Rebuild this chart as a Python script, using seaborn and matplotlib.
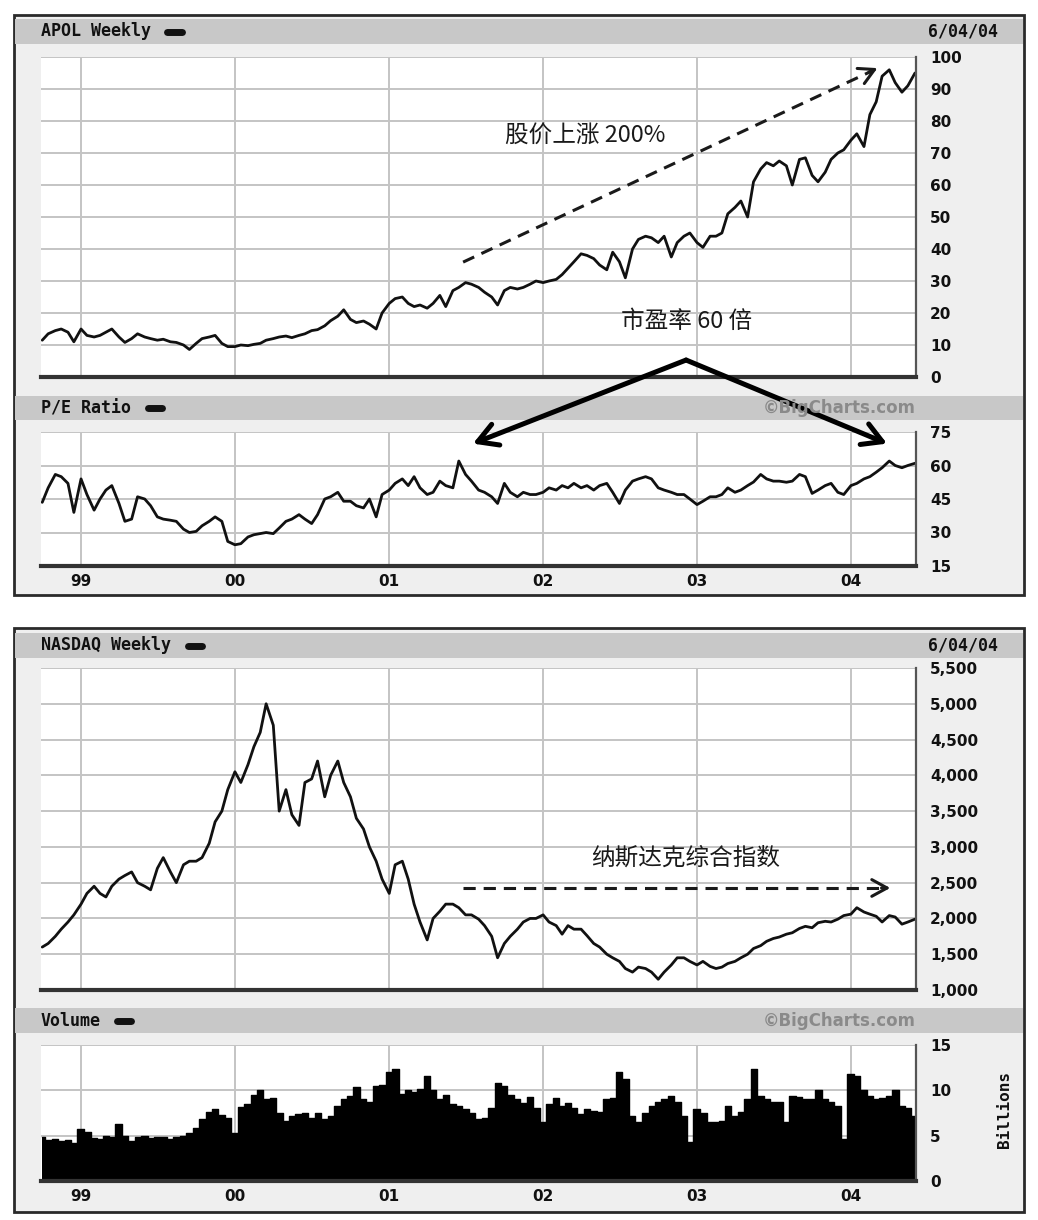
import numpy as np
import pandas as pd
import matplotlib
matplotlib.use("Agg")
import matplotlib.pyplot as plt
import matplotlib.dates as mdates
from matplotlib.patches import Rectangle
from matplotlib.lines import Line2D
import seaborn as sns

# ---------------- data (semi-monthly readings, Oct 1998 - Jun 2004) ----------------
dates = pd.date_range("1998-10-01", "2004-06-01", freq="SMS")

apol_price = [
    11.5, 13.5, 14.5, 15, 14, 11,
    15, 13, 12.5, 13, 14, 15, 12.5, 10.8, 12, 13.5, 12.5, 12, 11.5, 11.8, 11, 10.8, 10, 8.6, 10.5, 12, 12.5, 13, 10.5, 9.5,
    9.5, 10, 9.8, 10.2, 10.5, 11.5, 12, 12.5, 12.8, 12.3, 13, 13.5, 14.5, 14.8, 16, 17.6, 19, 21, 18, 17, 17.5, 16.5, 15, 20,
    23, 24.5, 25, 23, 22, 22.5, 21.5, 23, 25.5, 22, 27, 28, 29.5, 29, 28, 26.5, 25, 22.5, 27, 28, 27.5, 28, 29, 30,
    29.5, 30, 30.5, 32, 34, 36, 38.5, 38, 37, 35, 33.5, 39, 36, 31, 40, 43, 44, 43.5, 42, 44, 37.5, 42, 44, 45,
    42, 40.5, 44, 44, 45, 51, 53, 55, 50, 61, 65, 67, 66, 67.5, 66, 60, 68, 68.5, 63, 61, 64, 68, 70, 71,
    74, 76, 72, 82, 86, 94, 96, 92, 89, 91, 95,
]

apol_pe = [
    43.5, 50, 56, 55, 52, 39,
    54, 47, 40, 45, 49, 51, 43, 35, 36, 46, 45, 42, 37, 36, 35.5, 35, 31.5, 30, 30.5, 33, 35, 37, 35, 26,
    24.5, 25, 28, 29, 29.5, 30, 29.5, 32, 35, 36, 38, 36, 34, 38, 45, 46, 48, 44, 44, 42, 41, 45, 37, 47,
    49, 52, 54, 51, 55, 50, 47, 48, 53, 51, 50, 62, 56, 53, 49, 48, 46, 43, 52, 48, 46, 48, 47, 47,
    48, 50, 49, 51, 50, 52, 50, 51, 49, 51, 52, 48, 43, 49, 53, 54, 55, 54, 50, 49, 48, 47, 47, 45,
    42.5, 44, 46, 46, 47, 50, 48, 49, 51, 52.6, 56, 54, 53, 53, 52.5, 53, 56, 55, 47.5, 49, 51, 52, 48, 47,
    51, 52, 54, 55, 57, 59, 62, 60, 59, 60, 61,
]

nasdaq = [
    1600, 1650, 1750, 1850, 1950, 2050,
    2200, 2350, 2450, 2350, 2300, 2450, 2550, 2600, 2650, 2500, 2450, 2400, 2700, 2850, 2650, 2500, 2750, 2800, 2800, 2850, 3050, 3350, 3500, 3800,
    4050, 3900, 4150, 4400, 4600, 5000, 4700, 3500, 3800, 3450, 3300, 3900, 3950, 4200, 3700, 4000, 4200, 3900, 3700, 3400, 3250, 3000, 2800, 2550,
    2350, 2750, 2800, 2550, 2200, 1950, 1700, 2000, 2100, 2200, 2200, 2150, 2050, 2050, 1990, 1900, 1750, 1450, 1650, 1750, 1850, 1950, 2000, 2000,
    2050, 1950, 1900, 1780, 1900, 1850, 1850, 1760, 1650, 1600, 1500, 1450, 1400, 1300, 1250, 1320, 1300, 1250, 1150, 1250, 1350, 1450, 1450, 1400,
    1350, 1400, 1330, 1300, 1320, 1370, 1400, 1450, 1500, 1580, 1620, 1680, 1720, 1740, 1780, 1800, 1860, 1890, 1870, 1940, 1960, 1950, 1990, 2040,
    2060, 2150, 2090, 2060, 2030, 1950, 2040, 2020, 1920, 1950, 1990,
]

volume_bn = [
    4.8, 4.5, 4.6, 4.4, 4.5, 4.2,
    5.7, 5.4, 4.7, 4.6, 5.0, 4.8, 6.3, 5.0, 4.4, 4.8, 5.0, 4.7, 4.8, 4.9, 4.6, 4.8, 5.0, 5.3, 5.8, 6.8, 7.6, 7.9, 7.3, 7.0,
    5.3, 8.2, 8.5, 9.5, 10.0, 9.0, 9.2, 7.5, 6.6, 7.2, 7.4, 7.5, 7.0, 7.5, 6.8, 7.2, 8.3, 9.0, 9.4, 10.4, 9.0, 8.7, 10.5, 10.6,
    12.0, 12.3, 9.6, 10.0, 9.8, 10.1, 11.6, 10.0, 9.0, 9.5, 8.5, 8.3, 7.9, 7.5, 6.8, 7.0, 8.0, 10.8, 10.5, 9.5, 9.0, 8.6, 9.3, 8.0,
    6.5, 8.5, 9.2, 8.3, 8.6, 8.0, 7.4, 7.9, 7.7, 7.6, 9.0, 9.2, 12.0, 11.3, 7.2, 6.5, 7.5, 8.3, 8.7, 9.0, 9.4, 8.7, 7.2, 4.3,
    7.9, 7.5, 6.5, 6.5, 6.6, 8.3, 7.2, 7.6, 9.0, 12.4, 9.4, 9.0, 8.7, 8.7, 6.5, 9.4, 9.3, 9.0, 9.0, 10.0, 9.0, 8.7, 8.3, 4.6,
    11.8, 11.6, 10.0, 9.4, 9.0, 9.2, 9.4, 10.0, 8.3, 8.0, 7.2,
]

year_ticks = ["1999-01-01", "2000-01-01", "2001-01-01", "2002-01-01", "2003-01-01", "2004-01-01"]
year_labels = ["99", "00", "01", "02", "03", "04"]
price_ticks = [0, 10, 20, 30, 40, 50, 60, 70, 80, 90, 100]
pe_ticks = [15, 30, 45, 60, 75]
nasdaq_ticks = [1000, 1500, 2000, 2500, 3000, 3500, 4000, 4500, 5000, 5500]
nasdaq_labels = ["1,000", "1,500", "2,000", "2,500", "3,000", "3,500", "4,000", "4,500", "5,000", "5,500"]
volume_ticks = [0, 5, 10, 15]

df = pd.DataFrame({"date": dates, "price": apol_price, "pe": apol_pe,
                   "nasdaq": nasdaq, "volume": volume_bn})

# ---------------- style ----------------
sns.set_theme(style="white")
plt.rcParams["font.family"] = ["DejaVu Sans", "Noto Sans CJK SC"]

W, H = 1038, 1220
fig = plt.figure(figsize=(W / 100, H / 100), dpi=100)
fig.patch.set_facecolor("white")


def fx(px):
    return px / W


def fy(py):
    return 1 - py / H


def yr(t):
    return pd.Timestamp("1999-01-01") + pd.Timedelta(days=(t - 1999) * 365.25)


def box(x0, y0, x1, y1, face, edge=None, lw=0, z=-10):
    r = Rectangle((fx(x0), fy(y1)), fx(x1) - fx(x0), fy(y0) - fy(y1),
                  transform=fig.transFigure, facecolor=face,
                  edgecolor=edge if edge else face, linewidth=lw, zorder=z)
    fig.add_artist(r)


# panel frames
box(14, 15, 1024, 595, "#efefef", "#2a2a2a", 2.0, -10)
box(14, 628, 1024, 1212, "#efefef", "#2a2a2a", 2.0, -10)
for (a, b) in [(19, 44), (396, 420), (633, 658), (1008, 1033)]:
    box(15, a, 1023, b, "#c8c8c8", z=-5)

mono = "DejaVu Sans Mono"


def header_text(px, py, s, ha="left", **kw):
    fig.text(fx(px), fy(py), s, ha=ha, va="center", family=mono,
             fontsize=12, color="#111111", fontweight="bold", **kw)


def dash(x0, x1, py):
    fig.add_artist(Line2D([fx(x0), fx(x1)], [fy(py), fy(py)], transform=fig.transFigure,
                          color="#111111", lw=5, solid_capstyle="round", zorder=5))


header_text(41, 31.5, "APOL Weekly")
dash(167, 182, 31.5)
header_text(928, 31.5, "6/04/04")
header_text(41, 408, "P/E Ratio")
dash(148, 162, 408)
fig.text(fx(916), fy(408), "©BigCharts.com", ha="right", va="center",
         fontsize=12, fontweight="bold", color="#8a8a8a")
header_text(41, 645.5, "NASDAQ Weekly")
dash(188, 202, 645.5)
header_text(928, 645.5, "6/04/04")
header_text(41, 1021, "Volume")
dash(117, 131, 1021)
fig.text(fx(916), fy(1021), "©BigCharts.com", ha="right", va="center",
         fontsize=12, fontweight="bold", color="#8a8a8a")
fig.text(fx(1005), fy(1110), "Billions", ha="center", va="center", rotation=90,
         family=mono, fontsize=11.5, fontweight="bold", color="#111111")

# axes
def make_ax(py0, py1):
    return fig.add_axes([fx(41), fy(py1), fx(916) - fx(41), fy(py0) - fy(py1)])


ax_p = make_ax(57, 377)
ax_pe = make_ax(432, 566)
ax_n = make_ax(668, 990)
ax_v = make_ax(1045, 1181)

xmin, xmax = yr(1998.74), yr(2004.422)
tick_dates = [pd.Timestamp(d) for d in year_ticks]

# series
sns.lineplot(data=df, x="date", y="price", ax=ax_p, color="#111111", lw=2.0, legend=False)
sns.lineplot(data=df, x="date", y="pe", ax=ax_pe, color="#111111", lw=2.0, legend=False)
sns.lineplot(data=df, x="date", y="nasdaq", ax=ax_n, color="#111111", lw=2.0, legend=False)
sns.lineplot(data=df, x="date", y="volume", ax=ax_v, color="#000000", lw=1.0,
             drawstyle="steps-mid", legend=False)
ax_v.fill_between(df["date"], df["volume"], 0, step="mid", color="#000000", lw=0)

for ax, ticks, lim in [(ax_p, price_ticks, (0, 100)), (ax_pe, pe_ticks, (15, 75)),
                       (ax_n, nasdaq_ticks, (1000, 5500)), (ax_v, volume_ticks, (0, 15))]:
    ax.set_facecolor("white")
    ax.set_xlim(xmin, xmax)
    ax.set_ylim(*lim)
    ax.set_yticks(ticks)
    ax.set_xticks(tick_dates)
    ax.yaxis.tick_right()
    ax.tick_params(axis="both", length=0, labelsize=11, colors="#111111")
    ax.tick_params(axis="y", pad=10)
    ax.tick_params(axis="x", pad=6)
    ax.grid(True, color="#c4c4c4", lw=1.4)
    ax.set_axisbelow(True)
    for s in ["top", "left"]:
        ax.spines[s].set_visible(False)
    ax.spines["right"].set_color("#555555")
    ax.spines["right"].set_linewidth(1.6)
    ax.spines["bottom"].set_color("#333333")
    ax.spines["bottom"].set_linewidth(3)
    ax.set_xlabel("")
    ax.set_ylabel("")

ax_n.set_yticklabels(nasdaq_labels)
for ax in (ax_p, ax_n):
    ax.set_xticklabels([])
for ax in (ax_pe, ax_v):
    ax.set_xticklabels(year_labels, fontweight="bold")
for ax in (ax_p, ax_pe, ax_n, ax_v):
    for lab in ax.get_yticklabels():
        lab.set_fontweight("bold")

# ---------------- annotations ----------------
cjk = ["Noto Sans CJK SC", "DejaVu Sans"]
ink = "#1a1a1a"

# rising dashed arrow on price panel
ax_p.plot([yr(2001.481), yr(2004.13)], [35.9, 95.5], ls=(0, (4, 2.6)), color=ink, lw=2.2)
ax_p.annotate("", xy=(yr(2004.188), 96.9), xytext=(yr(2004.10), 94.9),
              arrowprops=dict(arrowstyle="->,head_length=0.55,head_width=0.3",
                              color=ink, lw=2.2, mutation_scale=20))
ax_p.text(yr(2002.273), 75.6, "股价上涨 200%", ha="center", va="center",
          family=cjk, fontsize=17, color=ink)
ax_p.text(yr(2002.929), 17.5, "市盈率 60 倍", ha="center", va="center",
          family=cjk, fontsize=17, color=ink)

# P/E arrows from apex
apex = (mdates.date2num(yr(2002.929)), 5.3)
for t_end in (2001.545, 2004.234):
    ann = ax_pe.annotate("", xy=(mdates.date2num(yr(t_end)), 69.8), xycoords="data",
                         xytext=apex, textcoords=ax_p.transData,
                         arrowprops=dict(arrowstyle="->,head_length=0.7,head_width=0.4",
                                         color="#000000", lw=3.6, mutation_scale=20,
                                         shrinkA=0, shrinkB=0),
                         annotation_clip=False)
    ann.set_zorder(10)

# horizontal dashed arrow on NASDAQ panel
ax_n.plot([yr(2001.481), yr(2004.21)], [2426, 2426], ls=(0, (4, 2.6)), color=ink, lw=2.2)
ax_n.annotate("", xy=(yr(2004.273), 2426), xytext=(yr(2004.18), 2426),
              arrowprops=dict(arrowstyle="->,head_length=0.55,head_width=0.3",
                              color=ink, lw=2.2, mutation_scale=20))
ax_n.text(yr(2002.929), 2845, "纳斯达克综合指数", ha="center", va="center",
          family=cjk, fontsize=17, color=ink)

fig.savefig("out.png", dpi=100)
